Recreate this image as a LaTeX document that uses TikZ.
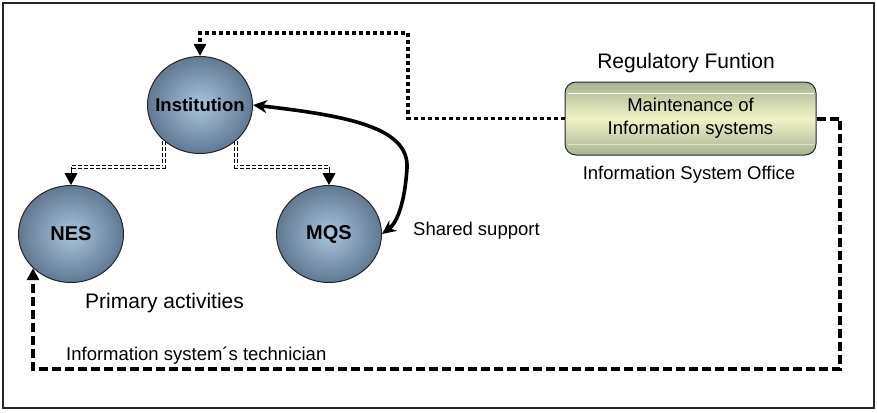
\documentclass[tikz,border=0pt]{standalone}
\usepackage{fontspec}
\setmainfont{Liberation Sans}
\usetikzlibrary{arrows.meta,calc,shapes.geometric}

\definecolor{orbEdge}{HTML}{627893}
\definecolor{orbCore}{HTML}{A6C7DC}
\definecolor{boxTop}{HTML}{A6B492}
\definecolor{boxMid}{HTML}{F1F3C4}
\definecolor{boxBot}{HTML}{A5B394}

\tikzset{
  orb/.style={ellipse, draw=black!85, line width=1pt, inner sep=0pt,
    minimum width=105pt, minimum height=97pt,
    inner color=orbCore, outer color=orbEdge,
    font=\fontsize{20}{22}\selectfont\bfseries},
  dbl/.style={draw=black, line width=1pt, double=white, double distance=1.6pt,
    dash pattern=on 4pt off 2pt},
  tipline/.style={line width=1pt, -{Triangle[width=13pt,length=12pt]}},
  dots/.style={line width=3.6pt, dash pattern=on 3.6pt off 3.4pt,
    -{Triangle[width=12pt,length=12pt]}},
  dashes/.style={line width=4pt, dash pattern=on 9pt off 4pt,
    -{Triangle[width=12pt,length=12pt]}},
  sharedlink/.style={line width=3.6pt, {Stealth[length=14pt,width=13pt]}-{Stealth[length=14pt,width=13pt]}},
  lbl/.style={inner sep=0pt, font=\fontsize{18.5}{21}\selectfont},
  biglbl/.style={inner sep=0pt, font=\fontsize{21}{24}\selectfont}
}

\begin{document}
\begin{tikzpicture}[x=1pt,y=-1pt]
\useasboundingbox (0,0) rectangle (877,412);
% outer frame
\draw[line width=2pt, black!85] (3,3) rectangle (874,408);

% the three organisational units (labels kept from widening the ellipses)
\node[orb] (inst) at (200,105) {\makebox[0pt]{\fontsize{18.5}{20}\selectfont Institution}};
\node[orb] (nes) at (71,234) {\makebox[0pt]{NES}};
\node[orb] (mqs) at (329,234) {\makebox[0pt]{MQS}};

% maintenance box with its glossy bands
\node[draw=black!85, line width=1pt, rounded corners=11pt,
      minimum width=251pt, minimum height=73pt, inner sep=0pt,
      top color=boxTop, bottom color=boxBot, middle color=boxMid,
      align=center, font=\fontsize{18.5}{23}\selectfont]
      (maint) at (690.5,118.5) {Maintenance of\\Information systems};
\draw[white, line width=1.2pt] ($(maint.north west)+(3,12)$) -- ($(maint.north east)+(-3,12)$);
\draw[white!60!boxBot, line width=1pt] ($(maint.south west)+(3,-11)$) -- ($(maint.south east)+(-3,-11)$);

% labels
\node[biglbl, anchor=base] (reg) at (686,68) {Regulatory Funtion};
\node[lbl, anchor=base] (iso) at (689,179) {Information System Office};
\node[lbl, anchor=base west] (shared) at (413,235) {Shared support};
\node[biglbl, anchor=base west] (prim) at (85,308) {Primary activities};
\node[lbl, anchor=base west] (tech) at (66,360) {Information system´s technician};

% double dashed links from the institution
\coordinate (jL) at (71,167);
\coordinate (jR) at (329,167);
\draw[dbl] (inst.225) |- (jL);
\draw[tipline] (jL) -- (nes.north);
\draw[dbl] (inst.315) |- (jR);
\draw[tipline] (jR) -- (mqs.north);

% regulatory link to the institution
\coordinate (d1) at (408,33);
\draw[dots] (maint.west) -| (d1) -| (inst.north);

% technician link to NES
\coordinate (d2) at (840,369);
\draw[dashes] (maint.east) -| (d2) -| (nes.222);

% shared support between institution and MQS
\draw[sharedlink] (inst.east) .. controls (350,116) and (409,128) .. (407,168)
            .. controls (405,200) and (398,222) .. (mqs.east);
\end{tikzpicture}
\end{document}
